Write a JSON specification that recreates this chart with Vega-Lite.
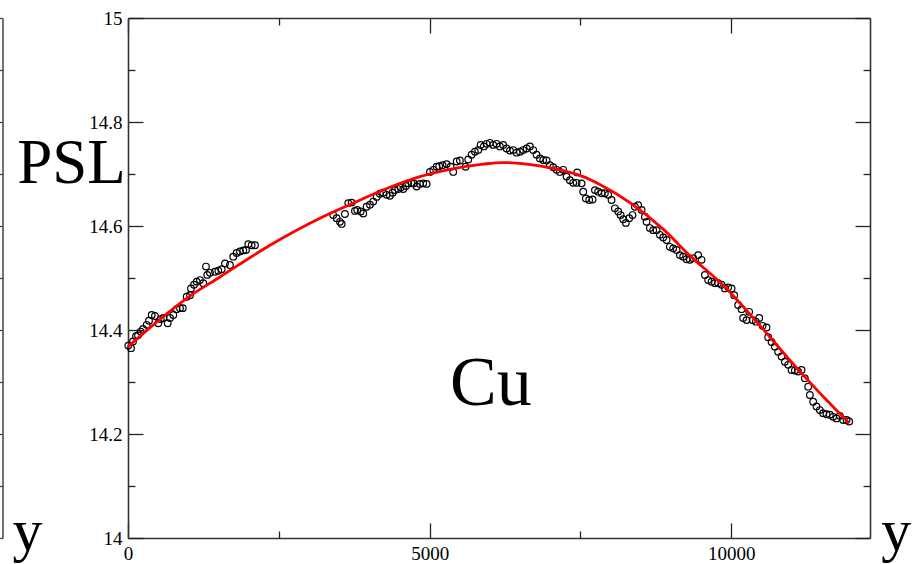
{
  "$schema": "https://vega.github.io/schema/vega-lite/v6.json",
  "width": 742,
  "height": 520,
  "autosize": {"type": "none"},
  "padding": {"left": 128, "top": 18, "right": 43, "bottom": 26},
  "background": "white",
  "config": {
    "view": {"stroke": null},
    "axis": {
      "grid": false,
      "title": null,
      "labelFlush": false,
      "labelFont": "Liberation Serif",
      "labelFontSize": 19,
      "labelColor": "#000",
      "domainColor": "#333",
      "domainWidth": 1.6,
      "tickColor": "#222",
      "tickWidth": 1.3
    }
  },
  "datasets": {
    "pts": [
      {"t":5,"psl":14.370},{"t":50,"psl":14.365},{"t":83,"psl":14.378},{"t":133,"psl":14.388},{"t":166,"psl":14.390},
      {"t":210,"psl":14.397},{"t":249,"psl":14.402},{"t":310,"psl":14.410},{"t":348,"psl":14.418},{"t":393,"psl":14.429},
      {"t":447,"psl":14.427},{"t":502,"psl":14.413},{"t":542,"psl":14.421},{"t":585,"psl":14.423},{"t":658,"psl":14.413},
      {"t":696,"psl":14.423},{"t":751,"psl":14.429},{"t":807,"psl":14.440},{"t":862,"psl":14.442},{"t":907,"psl":14.442},
      {"t":973,"psl":14.464},{"t":1028,"psl":14.467},{"t":1044,"psl":14.480},{"t":1094,"psl":14.487},{"t":1139,"psl":14.493},
      {"t":1193,"psl":14.496},{"t":1248,"psl":14.490},{"t":1293,"psl":14.522},{"t":1314,"psl":14.506},{"t":1359,"psl":14.510},
      {"t":1442,"psl":14.512},{"t":1497,"psl":14.514},{"t":1553,"psl":14.517},{"t":1608,"psl":14.528},{"t":1690,"psl":14.525},
      {"t":1745,"psl":14.541},{"t":1801,"psl":14.548},{"t":1856,"psl":14.551},{"t":1911,"psl":14.553},{"t":1956,"psl":14.554},
      {"t":1994,"psl":14.565},{"t":2050,"psl":14.563},{"t":2105,"psl":14.563},
      {"t":3402,"psl":14.621},{"t":3459,"psl":14.615},{"t":3513,"psl":14.608},{"t":3542,"psl":14.604},{"t":3596,"psl":14.623},
      {"t":3651,"psl":14.644},{"t":3707,"psl":14.645},{"t":3762,"psl":14.629},{"t":3800,"psl":14.631},{"t":3857,"psl":14.628},
      {"t":3900,"psl":14.624},{"t":3956,"psl":14.637},{"t":4011,"psl":14.641},{"t":4065,"psl":14.647},{"t":4122,"psl":14.656},
      {"t":4176,"psl":14.662},{"t":4231,"psl":14.664},{"t":4287,"psl":14.660},{"t":4342,"psl":14.658},{"t":4387,"psl":14.664},
      {"t":4425,"psl":14.669},{"t":4480,"psl":14.671},{"t":4519,"psl":14.674},{"t":4563,"psl":14.671},{"t":4607,"psl":14.677},
      {"t":4645,"psl":14.682},{"t":4702,"psl":14.682},{"t":4740,"psl":14.682},{"t":4785,"psl":14.676},{"t":4839,"psl":14.681},
      {"t":4894,"psl":14.682},{"t":4950,"psl":14.681},{"t":5005,"psl":14.704},{"t":5060,"psl":14.708},{"t":5116,"psl":14.714},
      {"t":5159,"psl":14.715},{"t":5215,"psl":14.717},{"t":5282,"psl":14.719},{"t":5348,"psl":14.714},{"t":5391,"psl":14.704},
      {"t":5448,"psl":14.724},{"t":5502,"psl":14.726},{"t":5597,"psl":14.714},{"t":5640,"psl":14.728},
      {"t":5696,"psl":14.737},{"t":5751,"psl":14.743},{"t":5806,"psl":14.746},{"t":5845,"psl":14.756},{"t":5900,"psl":14.753},
      {"t":5945,"psl":14.758},{"t":5999,"psl":14.760},{"t":6054,"psl":14.756},{"t":6110,"psl":14.758},{"t":6165,"psl":14.753},
      {"t":6220,"psl":14.756},{"t":6276,"psl":14.749},{"t":6331,"psl":14.745},{"t":6386,"psl":14.746},{"t":6442,"psl":14.741},
      {"t":6497,"psl":14.743},{"t":6551,"psl":14.746},{"t":6608,"psl":14.749},{"t":6662,"psl":14.753},{"t":6717,"psl":14.746},
      {"t":6773,"psl":14.737},{"t":6828,"psl":14.730},{"t":6883,"psl":14.727},{"t":6939,"psl":14.726},{"t":6994,"psl":14.717},
      {"t":7049,"psl":14.713},{"t":7105,"psl":14.708},{"t":7159,"psl":14.704},{"t":7214,"psl":14.708},{"t":7270,"psl":14.695},
      {"t":7325,"psl":14.688},{"t":7380,"psl":14.683},{"t":7436,"psl":14.683},{"t":7446,"psl":14.703},{"t":7519,"psl":14.682},
      {"t":7546,"psl":14.666},{"t":7590,"psl":14.653},{"t":7645,"psl":14.650},{"t":7701,"psl":14.651},{"t":7740,"psl":14.669},
      {"t":7794,"psl":14.666},{"t":7850,"psl":14.663},{"t":7905,"psl":14.663},{"t":7960,"psl":14.660},{"t":8016,"psl":14.650},
      {"t":8071,"psl":14.634},{"t":8126,"psl":14.628},{"t":8166,"psl":14.621},{"t":8209,"psl":14.613},{"t":8253,"psl":14.606},
      {"t":8308,"psl":14.615},{"t":8364,"psl":14.621},{"t":8402,"psl":14.637},{"t":8457,"psl":14.640},{"t":8514,"psl":14.631},
      {"t":8568,"psl":14.618},{"t":8596,"psl":14.608},{"t":8651,"psl":14.596},{"t":8706,"psl":14.592},{"t":8762,"psl":14.592},
      {"t":8817,"psl":14.583},{"t":8872,"psl":14.578},{"t":8928,"psl":14.573},{"t":8982,"psl":14.560},{"t":9037,"psl":14.557},
      {"t":9094,"psl":14.554},{"t":9148,"psl":14.544},{"t":9203,"psl":14.541},{"t":9259,"psl":14.536},{"t":9314,"psl":14.535},
      {"t":9369,"psl":14.538},{"t":9451,"psl":14.544},{"t":9508,"psl":14.535},
      {"t":9563,"psl":14.506},{"t":9617,"psl":14.496},{"t":9674,"psl":14.493},{"t":9729,"psl":14.490},{"t":9783,"psl":14.490},
      {"t":9839,"psl":14.487},{"t":9894,"psl":14.480},{"t":9949,"psl":14.482},{"t":10005,"psl":14.480},{"t":10048,"psl":14.467},
      {"t":10114,"psl":14.448},{"t":10171,"psl":14.440},{"t":10197,"psl":14.423},{"t":10254,"psl":14.419},{"t":10297,"psl":14.435},
      {"t":10353,"psl":14.419},{"t":10408,"psl":14.416},{"t":10463,"psl":14.423},{"t":10519,"psl":14.408},{"t":10585,"psl":14.405},
      {"t":10612,"psl":14.386},{"t":10668,"psl":14.377},{"t":10723,"psl":14.368},{"t":10777,"psl":14.358},{"t":10834,"psl":14.349},
      {"t":10888,"psl":14.339},{"t":10943,"psl":14.333},{"t":11000,"psl":14.323},{"t":11054,"psl":14.322},{"t":11109,"psl":14.320},
      {"t":11165,"psl":14.323},{"t":11220,"psl":14.307},{"t":11275,"psl":14.291},{"t":11303,"psl":14.275},{"t":11358,"psl":14.262},
      {"t":11413,"psl":14.253},{"t":11468,"psl":14.246},{"t":11523,"psl":14.240},{"t":11579,"psl":14.238},{"t":11634,"psl":14.237},
      {"t":11689,"psl":14.233},{"t":11745,"psl":14.230},{"t":11800,"psl":14.235},{"t":11855,"psl":14.227},{"t":11911,"psl":14.227},
      {"t":11954,"psl":14.224}
    ],
    "fit": [
      {"t":0,"psl":14.368},{"t":419,"psl":14.410},{"t":973,"psl":14.461},{"t":1525,"psl":14.502},{"t":2353,"psl":14.563},
      {"t":3182,"psl":14.615},{"t":3734,"psl":14.644},{"t":4287,"psl":14.672},{"t":4840,"psl":14.695},{"t":5336,"psl":14.709},
      {"t":5888,"psl":14.719},{"t":6200,"psl":14.722},{"t":6442,"psl":14.721},{"t":6994,"psl":14.712},{"t":7546,"psl":14.695},
      {"t":7822,"psl":14.680},{"t":8320,"psl":14.645},{"t":8872,"psl":14.594},{"t":9314,"psl":14.543},{"t":9866,"psl":14.486},
      {"t":10419,"psl":14.416},{"t":10971,"psl":14.342},{"t":11523,"psl":14.272},{"t":11954,"psl":14.221}
    ],
    "txt": [
      {"label":"PSL","t":-936,"v":14.683},
      {"label":"Cu","t":6016,"v":14.256},
      {"label":"y","t":-1666,"v":13.977},
      {"label":"y","t":12737,"v":13.977}
    ]
  },
  "resolve": {"axis": {"x": "independent", "y": "independent"}},
  "layer": [
    {
      "data": {"name": "pts"},
      "mark": {"type": "point", "shape": "circle", "filled": false, "stroke": "#000", "strokeWidth": 1.2, "size": 44, "opacity": 1},
      "encoding": {
        "x": {"field": "t", "type": "quantitative", "scale": {"domain": [0, 12300], "nice": false, "zero": false},
              "axis": {"orient": "top", "values": [0, 5000, 10000], "labels": false, "tickSize": -15}},
        "y": {"field": "psl", "type": "quantitative", "scale": {"domain": [14, 15], "nice": false, "zero": false},
              "axis": {"orient": "right", "values": [14, 14.2, 14.4, 14.6, 14.8, 15], "labels": false, "tickSize": -15}}
      }
    },
    {
      "data": {"name": "fit"},
      "mark": {"type": "line", "color": "#ff0000", "strokeWidth": 2.8, "interpolate": "monotone"},
      "encoding": {
        "x": {"field": "t", "type": "quantitative", "scale": {"domain": [0, 12300], "nice": false, "zero": false},
              "axis": {"orient": "bottom", "values": [0, 5000, 10000], "tickSize": -15, "labelPadding": 21, "format": "d"}},
        "y": {"field": "psl", "type": "quantitative", "scale": {"domain": [14, 15], "nice": false, "zero": false},
              "axis": {"orient": "left", "values": [14, 14.2, 14.4, 14.6, 14.8, 15], "tickSize": -15, "labelPadding": 21, "labelExpr": "datum.value == 14 || datum.value == 15 ? format(datum.value, 'd') : format(datum.value, '.1f')"}}
      }
    },
    {
      "data": {"name": "txt"},
      "transform": [{"filter": "datum.label == 'PSL'"}],
      "mark": {"type": "text", "font": "Liberation Serif", "fontSize": 63, "align": "center", "baseline": "alphabetic", "color": "#000"},
      "encoding": {
        "text": {"field": "label"},
        "x": {"field": "t", "type": "quantitative", "scale": {"domain": [0, 12300], "nice": false, "zero": false},
              "axis": {"orient": "bottom", "values": [2500, 7500], "labels": false, "domain": false, "tickSize": -7}},
        "y": {"field": "v", "type": "quantitative", "scale": {"domain": [14, 15], "nice": false, "zero": false},
              "axis": {"orient": "left", "values": [14.1, 14.3, 14.5, 14.7, 14.9], "labels": false, "domain": false, "tickSize": -7}}
      }
    },
    {
      "data": {"name": "txt"},
      "transform": [{"filter": "datum.label == 'Cu'"}],
      "mark": {"type": "text", "font": "Liberation Serif", "fontSize": 70, "align": "center", "baseline": "alphabetic", "color": "#000"},
      "encoding": {
        "text": {"field": "label"},
        "x": {"field": "t", "type": "quantitative", "scale": {"domain": [0, 12300], "nice": false, "zero": false},
              "axis": {"orient": "top", "values": [2500, 7500], "labels": false, "domain": false, "tickSize": -7}},
        "y": {"field": "v", "type": "quantitative", "scale": {"domain": [14, 15], "nice": false, "zero": false},
              "axis": {"orient": "right", "values": [14.1, 14.3, 14.5, 14.7, 14.9], "labels": false, "domain": false, "tickSize": -7}}
      }
    },
    {
      "data": {"name": "txt"},
      "transform": [{"filter": "datum.label == 'y'"}],
      "mark": {"type": "text", "font": "Liberation Serif", "fontSize": 60, "align": "center", "baseline": "alphabetic", "color": "#000"},
      "encoding": {
        "text": {"field": "label"},
        "x": {"field": "t", "type": "quantitative", "scale": {"domain": [0, 12300], "nice": false, "zero": false}, "axis": null},
        "y": {"field": "v", "type": "quantitative", "scale": {"domain": [14, 15], "nice": false, "zero": false},
              "axis": {"orient": "left", "offset": 125.5, "values": [14, 14.1, 14.2, 14.3, 14.4, 14.5, 14.6, 14.7, 14.8, 14.9, 15], "labels": false, "tickSize": 3, "domainColor": "#444", "domainWidth": 1.5, "tickColor": "#444"}}
      }
    }
  ]
}
